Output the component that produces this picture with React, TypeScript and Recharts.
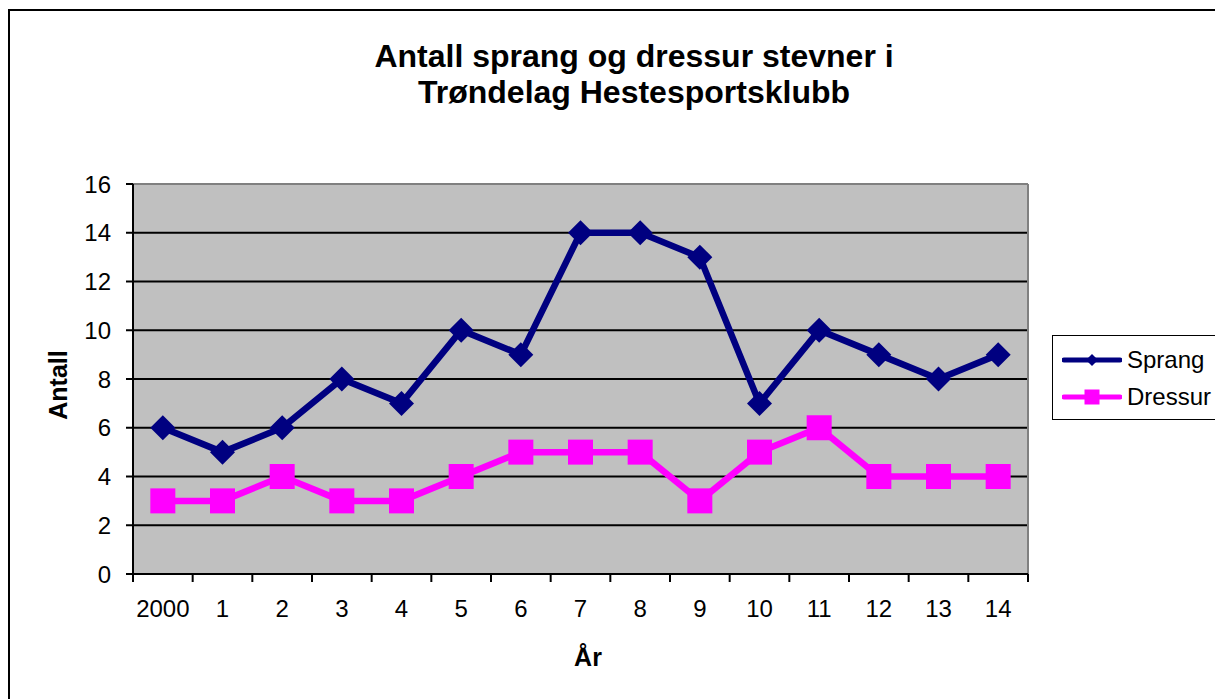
import React from 'react';
import {
  LineChart,
  Line,
  XAxis,
  YAxis,
  CartesianGrid,
  Legend,
  ReferenceLine
} from 'recharts';

const years = ['2000', '1', '2', '3', '4', '5', '6', '7', '8', '9', '10', '11', '12', '13', '14'];
const sprang = [6, 5, 6, 8, 7, 10, 9, 14, 14, 13, 7, 10, 9, 8, 9];
const dressur = [3, 3, 4, 3, 3, 4, 5, 5, 5, 3, 5, 6, 4, 4, 4];
const yTicks = [0, 2, 4, 6, 8, 10, 12, 14, 16];

const data = years.map((year, i) => ({ idx: i, year, Sprang: sprang[i], Dressur: dressur[i] }));

// centre ticks carry the labels, half-way ticks carry the tick marks
const xTicks: number[] = [];
for (let i = -0.5; i <= years.length - 0.5; i += 0.5) xTicks.push(i);

const FONT = '"Liberation Sans", Arial, sans-serif';
const NAVY = '#000080';
const PINK = '#ff00ff';

const Diamond = ({ cx, cy, r, color }: any) => (
  <path d={`M${cx},${cy - r}L${cx + r},${cy}L${cx},${cy + r}L${cx - r},${cy}Z`} fill={color} />
);

const Square = ({ cx, cy, r, color }: any) => (
  <rect x={cx - r} y={cy - r} width={r * 2} height={r * 2} fill={color} />
);

const XTick = ({ x, y, payload }: any) => {
  const v = payload.value;
  if (!Number.isInteger(v)) {
    return <line x1={x} y1={y} x2={x} y2={y + 8} stroke="#000" strokeWidth={2} />;
  }
  return (
    <text x={x} y={y + 43} textAnchor="middle" fontSize={24} fontFamily={FONT} fill="#000">
      {years[v]}
    </text>
  );
};

const LegendBox = () => (
  <div
    style={{
      border: '1.5px solid #000',
      width: 169,
      height: 85,
      boxSizing: 'border-box',
      background: '#fff',
      fontFamily: FONT,
      fontSize: 24,
      color: '#000',
      paddingTop: 5
    }}
  >
    {[
      { name: 'Sprang', color: NAVY, kind: 'diamond' },
      { name: 'Dressur', color: PINK, kind: 'square' }
    ].map((item) => (
      <div key={item.name} style={{ display: 'flex', alignItems: 'center', height: 37, paddingLeft: 9 }}>
        <svg width={60} height={20}>
          <line x1={2} y1={10} x2={58} y2={10} stroke={item.color} strokeWidth={5} strokeLinecap="round" />
          {item.kind === 'diamond' ? (
            <Diamond cx={30} cy={10} r={6} color={item.color} />
          ) : (
            <Square cx={30} cy={10} r={7.5} color={item.color} />
          )}
        </svg>
        <span style={{ marginLeft: 5 }}>{item.name}</span>
      </div>
    ))}
  </div>
);

export default function App() {
  return (
    <div
      style={{
        position: 'relative',
        width: 1215,
        height: 691,
        borderLeft: '2px solid #000',
        borderTop: '2px solid #000',
        boxSizing: 'border-box',
        overflow: 'hidden',
        fontFamily: FONT,
        marginTop: 1
      }}
    >
      <div
        style={{
          position: 'absolute',
          left: 0,
          width: 1248,
          top: 27,
          textAlign: 'center',
          fontWeight: 'bold',
          fontSize: 32,
          lineHeight: '36px',
          color: '#000'
        }}
      >
        Antall sprang og dressur stevner i
        <br />
        Trøndelag Hestesportsklubb
      </div>
      <div
        style={{
          position: 'absolute',
          left: 48 - 50,
          top: 360,
          width: 100,
          textAlign: 'center',
          transform: 'rotate(-90deg)',
          fontWeight: 'bold',
          fontSize: 25,
          lineHeight: '28px',
          color: '#000'
        }}
      >
        Antall
      </div>
      <div
        style={{
          position: 'absolute',
          left: 528,
          top: 632,
          width: 100,
          textAlign: 'center',
          fontWeight: 'bold',
          fontSize: 25,
          lineHeight: '28px',
          color: '#000'
        }}
      >
        År
      </div>
      <LineChart
        width={1213}
        height={689}
        data={data}
        margin={{ top: 173, right: 195, bottom: 76, left: 63 }}
      >
        <CartesianGrid
          vertical={false}
          horizontalValues={yTicks.slice(0, -1)}
          stroke="#000"
          strokeWidth={2}
          fill="#c0c0c0"
          fillOpacity={1}
        />
        <XAxis
          dataKey="idx"
          type="number"
          domain={[-0.5, years.length - 0.5]}
          ticks={xTicks}
          interval={0}
          tickLine={false}
          tickSize={0}
          tickMargin={0}
          tick={<XTick />}
          axisLine={{ stroke: '#000', strokeWidth: 2 }}
          height={50}
        />
        <YAxis
          domain={[0, 16]}
          ticks={yTicks}
          interval={0}
          width={60}
          tickSize={7}
          tickMargin={15}
          tickLine={{ stroke: '#000', strokeWidth: 2 }}
          axisLine={{ stroke: '#000', strokeWidth: 2 }}
          tick={{ fill: '#000', fontSize: 24, fontFamily: FONT }}
        />
        <ReferenceLine y={16} stroke="#808080" strokeWidth={2} />
        <ReferenceLine x={years.length - 0.5} stroke="#808080" strokeWidth={2} />
        <Line
          dataKey="Sprang"
          stroke={NAVY}
          strokeWidth={6.5}
          isAnimationActive={false}
          activeDot={false}
          dot={(p: any) => <Diamond key={`s${p.index}`} cx={p.cx} cy={p.cy} r={12.5} color={NAVY} />}
        />
        <Line
          dataKey="Dressur"
          stroke={PINK}
          strokeWidth={6.5}
          isAnimationActive={false}
          activeDot={false}
          dot={(p: any) => <Square key={`d${p.index}`} cx={p.cx} cy={p.cy} r={12.5} color={PINK} />}
        />
        <Legend
          layout="horizontal"
          verticalAlign="middle"
          align="center"
          content={<LegendBox />}
          wrapperStyle={{ position: 'absolute', left: 1042, top: 324, width: 'auto', height: 'auto' }}
        />
      </LineChart>
    </div>
  );
}
